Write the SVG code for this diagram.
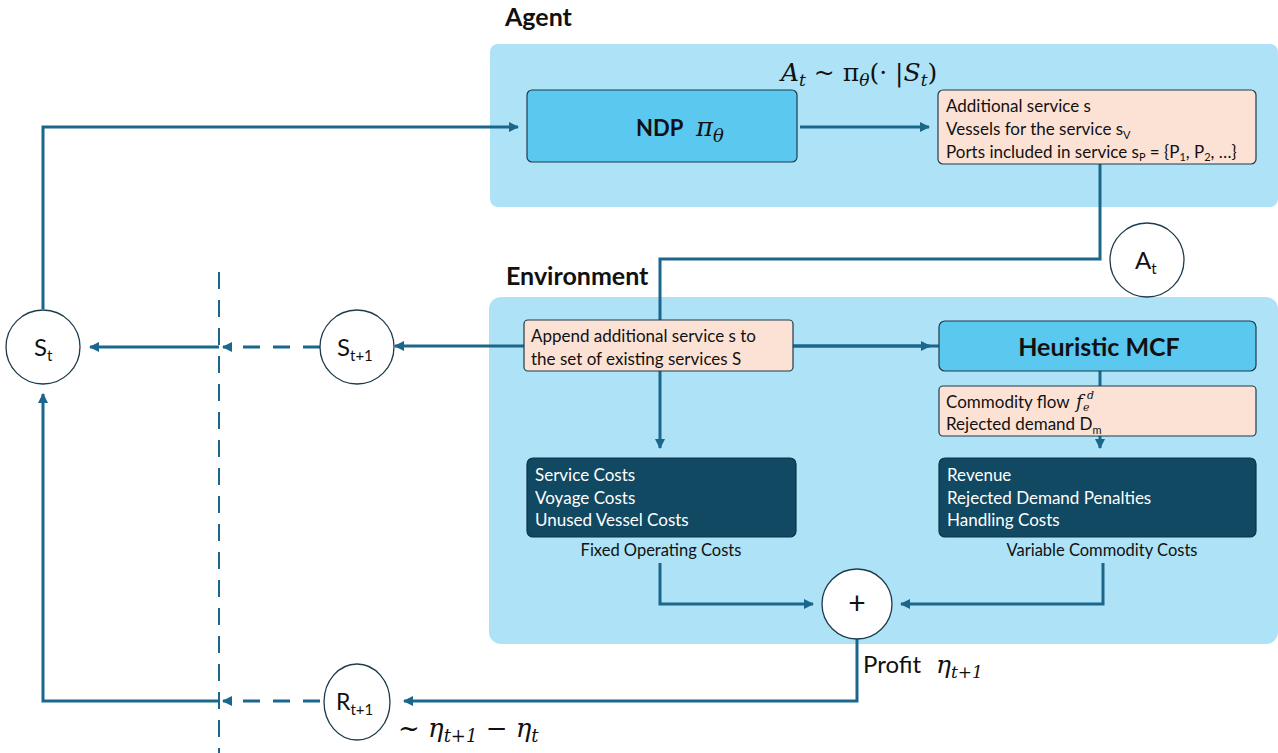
<svg xmlns="http://www.w3.org/2000/svg" width="1278" height="753" viewBox="0 0 1278 753">
<defs>
<marker id="ah" markerWidth="10" markerHeight="10" refX="9" refY="5" orient="auto" markerUnits="userSpaceOnUse">
<path d="M0,0 L10,5 L0,10 Z" fill="#1b668b"/>
</marker>
<style>
.t{font-family:Lato,"Noto Sans","Liberation Sans",sans-serif;}
.m{font-family:"DejaVu Serif","Liberation Serif",serif;font-style:italic;}
.c{fill:none;stroke:#1b668b;stroke-width:3;}
.d{fill:none;stroke:#1b668b;stroke-width:3;stroke-dasharray:17,13;}
.node{fill:#5bc8f0;stroke:#1d3b4c;stroke-width:1.2;}
.peach{fill:#fce2d5;stroke:#1d3b4c;stroke-width:1.2;}
.dark{fill:#114862;stroke:#0d3346;stroke-width:1.2;}
.circ{fill:#fff;stroke:#1d3b4c;stroke-width:1.3;}
.bt{font-size:17px;fill:#111;}
.wt{font-size:17px;fill:#fff;}
</style>
</defs>
<rect width="1278" height="753" fill="#fff"/>
<rect id="agent-bg" x="490" y="44" width="788" height="163" rx="8" fill="#aee3f7"/>
<rect id="env-bg" x="489" y="297" width="789" height="347" rx="12" fill="#aee3f7"/>
<text class="t" x="505" y="26" font-size="25" font-weight="bold" fill="#111">Agent</text>
<text class="t" x="506" y="285" font-size="25" font-weight="bold" fill="#111">Environment</text>

<g id="connectors">
<path class="c" d="M43,309 V127 H518" marker-end="url(#ah)"/>
<path class="c" d="M800,127 H929" marker-end="url(#ah)"/>
<path class="c" d="M1100,164 V259 H660 V448" marker-end="url(#ah)"/>
<path class="c" d="M940,346 H395" marker-end="url(#ah)"/>
<path class="c" d="M793,346 H930" marker-end="url(#ah)"/>
<path class="c" d="M1100,371 V386"/>
<path class="c" d="M1100,436 V448" marker-end="url(#ah)"/>
<path class="c" d="M660,563 V604 H813" marker-end="url(#ah)"/>
<path class="c" d="M1103,563 V604 H901" marker-end="url(#ah)"/>
<path class="c" d="M857,639 V701 H404" marker-end="url(#ah)"/>
<path class="d" d="M320,347 H232"/>
<path class="c" d="M232,347 H223" marker-end="url(#ah)"/>
<path class="c" d="M219,347 H90" marker-end="url(#ah)"/>
<path class="d" d="M320,701 H232"/>
<path class="c" d="M232,701 H223" marker-end="url(#ah)"/>
<path class="c" d="M219,701 H43 V394" marker-end="url(#ah)"/>
<path d="M219,272 V753" fill="none" stroke="#1b668b" stroke-width="2" stroke-dasharray="17,11"/>
</g>

<text class="m" x="781" y="81" font-size="25" fill="#111">A<tspan font-size="17" dy="5">t</tspan><tspan dy="-5" font-style="normal"> ~ π</tspan><tspan font-size="17" dy="5">θ</tspan><tspan dy="-5" font-style="normal">(· |</tspan>S<tspan font-size="17" dy="5">t</tspan><tspan dy="-5" font-style="normal">)</tspan></text>

<g id="ndp">
<rect class="node" x="527" y="90" width="270" height="72" rx="5"/>
<text class="t" x="636" y="136" font-size="22" font-weight="bold" fill="#111">NDP</text>
<text class="m" x="696" y="136" font-size="26" fill="#111">π<tspan font-size="18" dy="6">θ</tspan></text>
</g>

<g id="action">
<rect class="peach" x="938" y="90" width="318" height="74" rx="5"/>
<text class="t bt" x="946" y="112">Additional service s</text>
<text class="t bt" x="946" y="135">Vessels for the service s<tspan font-size="11" dy="4">V</tspan></text>
<text class="t bt" x="946" y="158">Ports included in service s<tspan font-size="11" dy="3">P</tspan><tspan dy="-3"> = {P</tspan><tspan font-size="11" dy="3">1</tspan><tspan dy="-3">, P</tspan><tspan font-size="11" dy="3">2</tspan><tspan dy="-3">, …}</tspan></text>
</g>

<g id="at">
<circle class="circ" cx="1147" cy="260" r="37"/>
<text class="t" x="1135" y="269" font-size="24" fill="#111">A<tspan font-size="15" dy="5">t</tspan></text>
</g>

<g id="append">
<rect class="peach" x="524" y="320" width="269" height="51" rx="4"/>
<text class="t bt" x="531" y="342">Append additional service s to</text>
<text class="t bt" x="531" y="365">the set of existing services S</text>
</g>

<g id="mcf">
<rect class="node" x="939" y="321" width="317" height="50" rx="6"/>
<text class="t" x="1099" y="356" font-size="25" font-weight="bold" fill="#111" text-anchor="middle">Heuristic MCF</text>
</g>

<g id="flow">
<rect class="peach" x="939" y="386" width="317" height="50" rx="4"/>
<text class="t bt" x="946" y="408">Commodity flow</text>
<text class="m" fill="#111"><tspan x="1076" y="408" font-size="18">f</tspan><tspan x="1083" y="411" font-size="11">e</tspan><tspan x="1087" y="399" font-size="11">d</tspan></text>
<text class="t bt" x="946" y="430">Rejected demand D<tspan font-size="11" dy="4">m</tspan></text>
</g>

<g id="fixed">
<rect class="dark" x="527" y="458" width="269" height="79" rx="6"/>
<text class="t wt" x="535" y="481">Service Costs</text>
<text class="t wt" x="535" y="504">Voyage Costs</text>
<text class="t wt" x="535" y="526">Unused Vessel Costs</text>
<text class="t" x="661" y="556" font-size="16.5" fill="#111" text-anchor="middle">Fixed Operating Costs</text>
</g>

<g id="variable">
<rect class="dark" x="939" y="458" width="317" height="79" rx="6"/>
<text class="t wt" x="947" y="481">Revenue</text>
<text class="t wt" x="947" y="504">Rejected Demand Penalties</text>
<text class="t wt" x="947" y="526">Handling Costs</text>
<text class="t" x="1102" y="556" font-size="16.5" fill="#111" text-anchor="middle">Variable Commodity Costs</text>
</g>

<g id="plus">
<circle class="circ" cx="857" cy="604" r="35"/>
<text class="t" x="857" y="614" font-size="30" fill="#111" text-anchor="middle">+</text>
</g>

<text class="t" x="863" y="673" font-size="24" fill="#111">Profit</text>
<text class="m" x="936" y="673" font-size="25" fill="#111">η<tspan font-size="17" dy="5">t+1</tspan></text>

<g id="st">
<circle class="circ" cx="43" cy="347" r="37"/>
<text class="t" x="34" y="356" font-size="24" fill="#111">S<tspan font-size="15" dy="5">t</tspan></text>
</g>

<g id="st1">
<circle class="circ" cx="357" cy="347" r="37"/>
<text class="t" x="337" y="356" font-size="24" fill="#111">S<tspan font-size="15" dy="5">t+1</tspan></text>
</g>

<g id="rt1">
<ellipse class="circ" cx="357" cy="702" rx="33" ry="38"/>
<text class="t" x="336" y="710" font-size="23" fill="#111">R<tspan font-size="15" dy="5">t+1</tspan></text>
</g>

<text class="m" x="398" y="737" font-size="26" fill="#111"><tspan font-style="normal">~ </tspan>η<tspan font-size="18" dy="5">t+1</tspan><tspan dy="-5" font-style="normal"> − </tspan>η<tspan font-size="18" dy="5">t</tspan></text>
</svg>
